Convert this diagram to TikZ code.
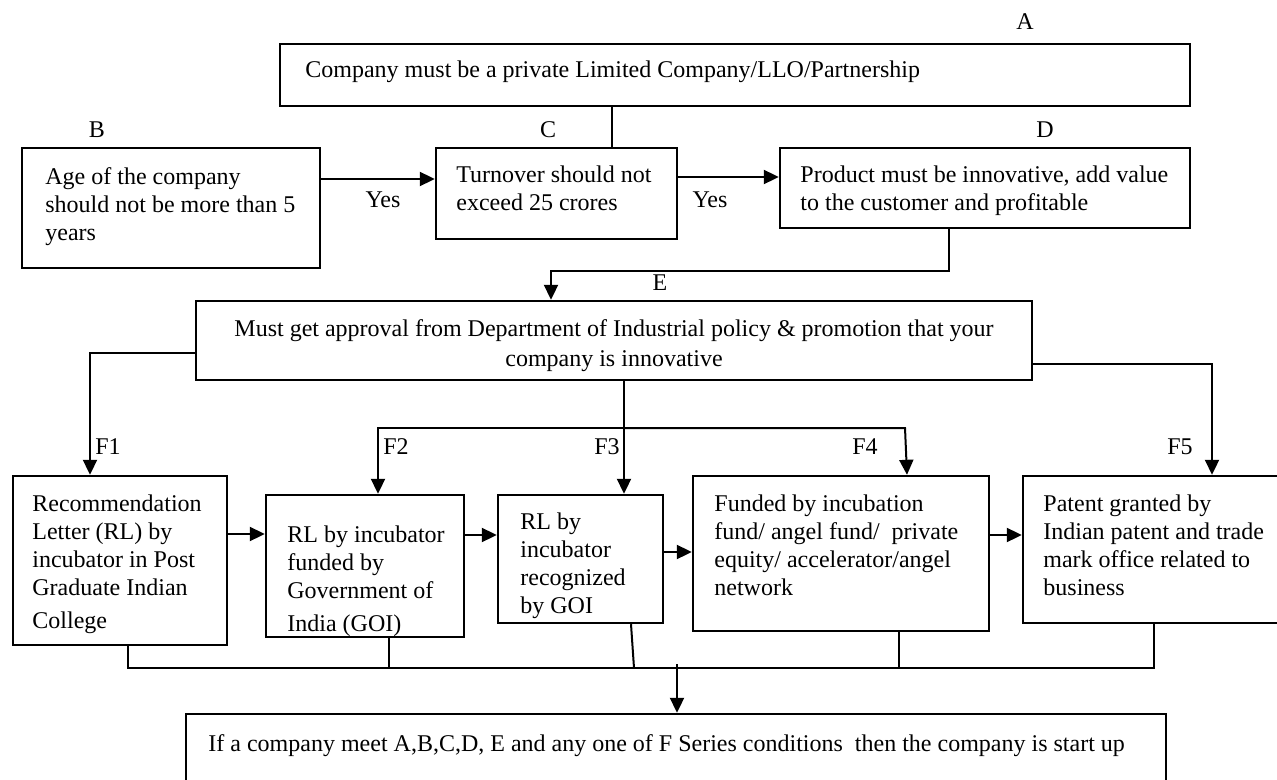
\documentclass[tikz,border=0pt]{standalone}
\usepackage{fontspec}
\setmainfont{Liberation Serif}
\usetikzlibrary{arrows.meta,fit}
\begin{document}
\begin{tikzpicture}[x=0.5pt,y=-0.5pt,
  box/.style={draw, line width=1.2pt, inner sep=0pt},
  txt/.style={inner sep=0pt, align=left, font=\fontsize{12}{14}\selectfont},
  lbl/.style={inner sep=0pt, font=\fontsize{12}{14}\selectfont},
  con/.style={line width=1pt},
  arr/.style={line width=1pt, -{Triangle[length=7.5pt,width=7pt]}}]
\fill[white] (0,0) rectangle (1277,780);
\useasboundingbox (0,0) rectangle (1277,780);
\clip (0,0) rectangle (1277,780);

% boxes
\node[box, fit={(280,44) (1190,106)}] (A) {};
\node[box, fit={(22,148) (320,268)}] (B) {};
\node[box, fit={(436,148) (677,239)}] (C) {};
\node[box, fit={(780,148) (1190,228)}] (D) {};
\node[box, fit={(196,301) (1032,380)}] (E) {};
\node[box, fit={(13,476) (227,645)}] (F1) {};
\node[box, fit={(266,495) (464,637)}] (F2) {};
\node[box, fit={(498,495) (663,623)}] (F3) {};
\node[box, fit={(693,476) (989,631)}] (F4) {};
\node[box, fit={(1023,476) (1300,623)}] (F5) {};
\node[box, fit={(186,714) (1166,830)}] (G) {};

% texts
\node[txt, anchor=west] (At) at (305,72) {Company must be a private Limited Company/LLO/Partnership};
\node[txt, anchor=north west] (Bt) at (45,167) {Age of the company\\should not be more than 5\\years};
\node[txt, anchor=north west] (Ct) at (456,165) {Turnover should not\\exceed 25 crores};
\node[txt, anchor=north west] (Dt) at (800,165) {Product must be innovative, add value\\to the customer and profitable};
\node[txt, anchor=north, align=center] (Et) at (614,319) {Must get approval from Department of Industrial policy \& promotion that your\\[1pt]company is innovative};
\node[txt, anchor=north west] (F1t) at (32,494) {Recommendation\\Letter (RL) by\\incubator in Post\\Graduate Indian\\[2.5pt]College};
\node[txt, anchor=north west] (F2t) at (287,525) {RL by incubator\\funded by\\Government of\\[2.5pt]India (GOI)};
\node[txt, anchor=north west] (F3t) at (520,512) {RL by\\incubator\\recognized\\by GOI};
\node[txt, anchor=north west] (F4t) at (714,494) {Funded by incubation\\fund/ angel fund/ \ private\\equity/ accelerator/angel\\network};
\node[txt, anchor=north west] (F5t) at (1043,494) {Patent granted by\\Indian patent and trade\\mark office related to\\business};
\node[txt, anchor=north west] (Gt) at (208,734) {If a company meet A,B,C,D, E and any one of F Series conditions \ then the company is start up};

% labels
\node[lbl] (La) at (1025,22) {A};
\node[lbl] (Lb) at (97,130) {B};
\node[lbl] (Lc) at (548,130) {C};
\node[lbl] (Ld) at (1045,130) {D};
\node[lbl] (Le) at (660,283) {E};
\node[lbl] (Lf1) at (108,447) {F1};
\node[lbl] (Lf2) at (396,447) {F2};
\node[lbl] (Lf3) at (607,447) {F3};
\node[lbl] (Lf4) at (865,447) {F4};
\node[lbl] (Lf5) at (1180,447) {F5};
\node[lbl] (Y1) at (383,200) {Yes};
\node[lbl] (Y2) at (710,200) {Yes};

% connectors top
\draw[con] (A.south -| 612,0) -- (C.north -| 612,0);
\draw[arr] (B.east |- 0,179) -- (C.west |- 0,179);
\draw[arr] (C.east |- 0,177) -- (D.west |- 0,177);
\coordinate (dturn) at (949,271);
\coordinate (eturn) at (551,271);
\draw[arr] (D.south -| dturn) -- (dturn) -- (eturn) -- (E.north -| eturn);

% E to F row
\draw[arr] (E.west |- 0,353) -| (F1.north -| 90,0);
\draw[arr] (E.east |- 0,364) -| (F5.north -| 1212,0);
\draw[arr] (E.south -| 624,0) -- (F3.north -| 624,0);
\coordinate (bus) at (624,428);
\coordinate (f4turn) at (905,428);
\draw[arr] (bus) -| (F2.north -| 378,0);
\draw[arr] (bus) -- (f4turn) -- (F4.north -| 907,0);

% F row arrows
\draw[arr] (F1.east |- 0,534) -- (F2.west |- 0,534);
\draw[arr] (F2.east |- 0,535) -- (F3.west |- 0,535);
\draw[arr] (F3.east |- 0,552) -- (F4.west |- 0,552);
\draw[arr] (F4.east |- 0,535) -- (F5.west |- 0,535);

% bottom bus
\coordinate (b1) at (128,668);
\coordinate (b5) at (1154,668);
\draw[con] (F1.south -| b1) -- (b1) -- (b5) -- (F5.south -| b5);
\draw[con] (F2.south -| 389,0) -- (389,668);
\draw[con] (F3.south -| 631,0) -- (634,668);
\draw[con] (F4.south -| 899,0) -- (899,668);
\coordinate (gtop) at (677,664);
\draw[arr] (gtop) -- (G.north -| gtop);
\end{tikzpicture}
\end{document}
